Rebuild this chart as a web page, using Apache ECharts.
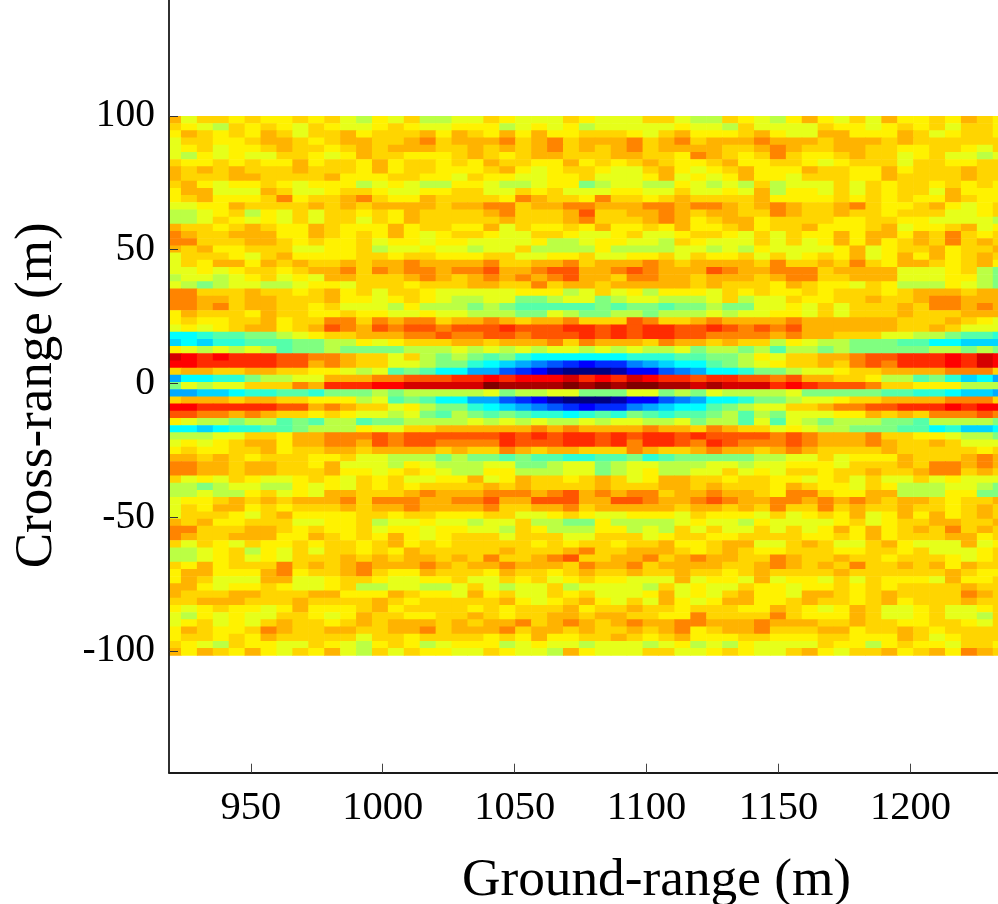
<!DOCTYPE html>
<html>
<head>
<meta charset="utf-8">
<style>html,body{margin:0;padding:0;background:#fff}#c{width:998px;height:904px}</style>
<script src="https://cdn.jsdelivr.net/npm/echarts@6/dist/echarts.min.js"></script>
</head>
<body>
<div id="c"></div>
<script>
// Cell levels, a (lowest) .. y (highest) on the jet scale. One string per row, top to bottom.
var cellsLeft = [
"roqqpqppqpqonpoqnn","qponqpqpoqpoopqpoo","prqpqprqoqqrpqqqrp","oqqppqrrqpqrrqqrsq","opqoppqrqqpqrqrrrq",
"onpopooqqpoprqqppp","qppqpqpprpqqprpqqp","rqrqrqqqrqqqprpqqp","rqqqrrqqqqrpppqqpp","qrpoppqpopppnoponn",
"prrooorqoopqqpoopp","pqrpppqspqqrsqpprq","oopprqqqqrqrqrrrrq","nnopqnpoqoqqpqprqq","nnoqpopoqoqqoqprqq",
"rqqpqrqpprqppprpqq","srqqrrrpprqpqprpop","ssqqqrrqpqppqoppop","rqrppqqqooppqnoopo","oqqqpoqrppppqqpqqp",
"oqprrprqrqqrqrrsrr","oopopqqpqrrsqsrssr","noonopqoporrqqqrsr","onmnoonnoppoqqqpqq","ssqqqrqqpqrpqoqqpo",
"ssrrqrrqqqrppopqpo","ssrsqrrqqpqooonpnn","prqqqprqqppqppoopo","pqppqqrpqqssqsrssq","opopqrrpqrtsrtstts",
"jjkllmmnopqqrrrsst","ijikklllmmnnpopqqq","ponononlmmnmmmmnnn","wvuvuuuttssrqqoqnm","vvuuuuuttrsrqqoonm",
"qrrqqrrqqpponolmlj","hjjkkmnnoorrrssttt","monooqqqsruuuvvwww","hhiijkkllkmmmnmnnn","qrrrqrrqqpppnolmlj",
"vvuuuuuttrsrqqopnm","ttssrsrqqpqpoonoml","ponnmnnlmlnnlmmnnn","jjijkkllmnnnpooqqr","nnnooqqprrssststtt",
"opopqrrprrssrtstts","pqppqqrpqqrrqrrrrq","rrqrqpqqqppqoonnnm","ssrrqrrqqprooonpon","ssrrqrrqqqrppopqpo",
"qopoqpoopqpoqpqoop","nnmnoonnpopoqpqpqq","nnonnpqoporrqqqrsr","oppqrqrqrrrsqsssrr","oqprrpqpqqqrqrrsrr",
"oqqqpoqrppppqqpqqp","rqrppqqqooppqnoopo","ssqqqrrqpqppqoppop","srqqrrrpprqpqprpop","qoqpoqppqpqqpqrpqp",
"nnopqnpoqoqqpqprqq","nnopqopoqqqrqrqrrq","qprpqqqsqrqrsrrrsr","prrppprspqqrsqpprq","prqooorroopqqpoopp",
"rrpoppqpoopqnnoonn","rqqqrrqqqrrppprqpp","qqrrrqqqrqqqqrqpqq","popqppoprpppqrpqqq","onpopooqqpoprqqppq",
"opqopoqrqqpqrqrrrq","prqppqsrqqrrqqrrsq","pqqpqprqqqqqoqqpqq","qponqppooqponpqpno","rprqprpoqpronqoqpp"
];
var cellsMiddle = [
"ooqpoooqpoooqqonn","pppnopopnooooopoo","rqprprppqqqpoqrpp","rrrsqrsqrrrsqrsqr","qrqrqrsqrqrsqrrrr",
"qrqpqrrqqqrrqqpsr","qprqqpprpqpqrqppq","ppqrpopqqpooqrpop","oqppooppqooopropo","pponnoppmnoonnpon",
"qqooqpqoooppooqoo","qqqpsrqqpsqqpqrqq","rrssqrrssrrrssrss","qqrsqqqrtqqrrsrqr","qqqrqqqrsqqqrsrpq",
"pproqppqprppqprpp","qqpooqqpoopqoopqq","poooopnnoppoonqpo","onooqnnnnpnnnnoon","ppqqooppqooppqoqp",
"rrsqqrrsqrrrsrqrr","sstrrsttrrstsrrrt","qrsrsrstrrqssrrqr","qrrqqsqrrqrrrrrqr","oooopppnoqopnpppo",
"nnoommnoomnoonnno","nmnmlllllmlmmlmmn","onnnmmonmmnnmnnno","rrsrqrrsqqqtsqqrs","tttutttuututuuttu",
"ssttstttututuutts","rrqrrrsqsrrrqsrrq","onononoonononnomn","nmlmkjjjjjjkkkllm","mkjihgfedeeghijjl",
"jhhfedbaaabddfghj","uuvuvvvwuvuwvuutu","wwyxxxxyxyxyyxxwx","nnomnnoommmoomnmo","jhhfedbaaabddfghj",
"mkjihgfedeeghijjl","nmlmlkkjklkmlkllm","nonononnonoonnomn","rrrrrsrsrrrrsrrqs","tttututuututuutut",
"sssutttuutusuutsu","rqqsrqrrqqqsrqqrs","nmmlmllkkllmklmmm","nnoommnoomnoonnno","nnppnnnoomnopnnoo",
"proprqqpqrqoprrqq","qqrqrqqqqrqqqrrqr","rrsssrstrsrssqrrs","sstrrtttrrttsrrst","rrsqqrrsqrrrrrqrr",
"ppqqoopqpoopppoqp","onooqnnmmpnnnnopo","poonqpnnnppnonqoq","qqqoqqqooqqqopqqp","qqqqqpqpqqpqqrppq",
"qqqrqqqrsqqrrrqpq","rqsqqrstqqrrsqrsr","qrrsrrrqsrrsqrrrr","qqprqqpqrqqrqqrqq","qooqpqopqppooorop",
"oqonooqnoooonqopo","orpqooqpqooopropo","qqqrpopqrpoqorpop","qpqpqqqrpqqrqqpqq","qrqpqqrrqrrqqppsq",
"rqrrsqrsrqrsrrssr","rrrsqrrqrqqrqrspq","qqpqprppqqrqpqrpp","pppnopoonooonopno","ooqpoonrpoooqqoop"
];
var cellsRight = [
"qponprpoqorppqprqp","nqooooqppopqpqoqqp","pqrpoorrppprqopqqp","rrsrrrqrrrqrqqqqqq","qqrsrqqrrqqppqqpoq",
"qpqsqppqrqqopqoono","rppqqpopqqqoqqppqq","qrppprqqpprpqqqrqq","prppoqqqpprqqqqrqq","onqnoooqoqpqqpqpqp",
"pornppoqoqpqqorppp","qqrppppqpqpqpprqpp","rqrsrqqrsqppqrpopq","rqqsrqqrqqpqqqoopq","rrpqqqqppqqppoooon",
"qrpqqrpppqroppqrop","poqoqpprprrprqsqpq","ooqoqoprprpqrqsqrq","onpoooopropqqrpqqr","pqoqopqproprprpqrq",
"rrqsqqrqsqprrqpqrp","srrsssqrrrrooopqnm","rrqrssqqrrroooppnm","qqqprqppoqpnnnponm","qpqppqpqqqpqrrrqrr",
"qnooqppqqrqqrssrrr","mmoopoqoqqqrqssrsr","nooppoqoqqqrqqqrrr","rrrrsrrrrrrqqqrqpo","tststrrrrrrqqrqooo",
"sssrsrrqqqoonnmllk","rqqnponnmmmlljjiii","nmnlnnmnmmmmmnnmnm","mnpoqqrrsttuuuvuwv","mnopqqrqstsuuuvuwv",
"jkmmnoopqqrrrrsssq","uttstrrqqpnnlmkijh","wwwuvutttsqqpppnnn","nnnnommmmmllkkjiih","jkmmnoopqqrrrrsssq",
"mnooqqrssttuuuvuvv","nlnmooopprqrqsssts","nlolonmnnnmmlnnnnm","rqqoponnmmmlljkiij","tttstsrrrsqqpponnm",
"tssstsrrrsrqqrqooo","rrqrsrqqqqrqqqqqpq","mmnnooqoppprqqqrsr","onoopppoqqqrqssrsr","qopoqqpqqrqqrssqrq",
"pqqppopqoqooqopooo","qqqprqppoqpnnnoonm","rrqpssqpprrnnnppmm","srrssrsrsrqrrqpqqr","qrqsqqsqrqqrqqpqrq",
"ppoqopqproprprpqrq","onpoooopqopqqrrqqr","ooqoqoprprpqrqsqrq","pqqqqppqprpqqqrrpq","rrooqrqooqrpooorop",
"rqppqqqppqqpqooopq","rqqsrqqrqqpqqqpopq","qqrsrqrqsqqrqrprqq","pqrqqqqrqqqqqqrqpp","poroppoqoqppporppq",
"oqppoppqpqpqqqqrqq","qrpporrqpqrqqqqsrq","rrppqrqqpqrpqqqrqq","qpprqpoprqoopqoopq","qqqsqppprqoopqoonq",
"rrsrrrqqrqqppqqpoq","rrsqqqrrpqqrqpqqqq","pqqpppqqppprqopqqq","npooooqppnpqppoqqp","qpooqrpoqqrpqrpsrq"
];
// Jet-scale level that each letter stands for (0..24).
var letterLevels = {a:0,b:1,c:2,d:3,e:4,f:5,g:6,h:7,i:8,j:9,k:10,l:11,m:12,n:13.4,o:14.4,p:15.3,q:16,r:16.8,s:17.9,t:19,u:20,v:21,w:22,x:23,y:24};
var xTicks = [950, 1000, 1050, 1100, 1150, 1200];
var yTicks = [-100, -50, 0, 50, 100];
var xLabel = "Ground-range (m)";
var yLabel = "Cross-range (m)";

var cellW = 6.033, cellH = 2.688, firstX = 917.5, firstY = 100;
var data = [];
cellsLeft.forEach(function (l, r) {
  var row = [[l, 0], [cellsMiddle[r], 18], [cellsRight[r], 35]];
  row.forEach(function (part) {
    for (var i = 0; i < part[0].length; i++) {
      data.push([firstX + cellW * (part[1] + i + 0.5), firstY - cellH * (r + 0.5), letterLevels[part[0].charAt(i)]]);
    }
  });
});

var chart = echarts.init(document.getElementById('c'), null, {renderer: 'canvas'});
var font = '"Liberation Serif","Times New Roman",serif';
function plain(v) { return String(v); }
chart.setOption({
  animation: false,
  backgroundColor: '#fff',
  grid: {left: 169, right: 0, top: 0, height: 772.7, containLabel: false, outerBoundsMode: 'none'},
  visualMap: {
    show: false, type: 'continuous', min: 0, max: 24, dimension: 2, seriesIndex: 0,
    inRange: {color: ['#000080','#0000ff','#0080ff','#00ffff','#80ff80','#ffff00','#ff8000','#ff0000','#800000']}
  },
  xAxis: {
    type: 'value', min: 919, max: 1233.2, z: 10,
    name: xLabel, nameLocation: 'middle', nameGap: 82,
    nameTextStyle: {fontFamily: font, fontSize: 53.3, color: '#000', padding: [0, 0, 0, 146]},
    axisLine: {show: true, onZero: false, lineStyle: {color: '#1a1a1a', width: 1.8}},
    axisTick: {show: true, inside: true, length: 9, customValues: xTicks, lineStyle: {color: '#444', width: 1}},
    axisLabel: {show: true, customValues: xTicks, margin: 15, formatter: plain, fontFamily: font, fontSize: 40.5, color: '#000', hideOverlap: false},
    splitLine: {show: false}
  },
  yAxis: {
    type: 'value', min: -145.5, max: 143.36, z: 10,
    name: yLabel, nameLocation: 'middle', nameGap: 105,
    nameTextStyle: {fontFamily: font, fontSize: 53, color: '#000', padding: [0, 18, 0, 0]},
    axisLine: {show: true, onZero: false, lineStyle: {color: '#1a1a1a', width: 1.8}},
    axisTick: {show: true, inside: true, length: 9, customValues: yTicks, lineStyle: {color: '#333', width: 1}},
    axisLabel: {show: true, customValues: yTicks, margin: 14, padding: [7, 0, 0, 0], formatter: plain, fontFamily: font, fontSize: 39.5, color: '#000', hideOverlap: false},
    splitLine: {show: false}
  },
  series: [{
    type: 'custom', coordinateSystem: 'cartesian2d', clip: true, silent: true, progressive: 0,
    encode: {x: 0, y: 1}, data: data,
    renderItem: function (params, api) {
      var p = api.coord([api.value(0) - cellW / 2, api.value(1) + cellH / 2]);
      var s = api.size([cellW, cellH]);
      return {type: 'rect', shape: {x: p[0], y: p[1], width: s[0] + 0.6, height: s[1] + 0.6},
              style: {fill: api.visual('color')}};
    }
  }]
});
</script>
</body>
</html>
